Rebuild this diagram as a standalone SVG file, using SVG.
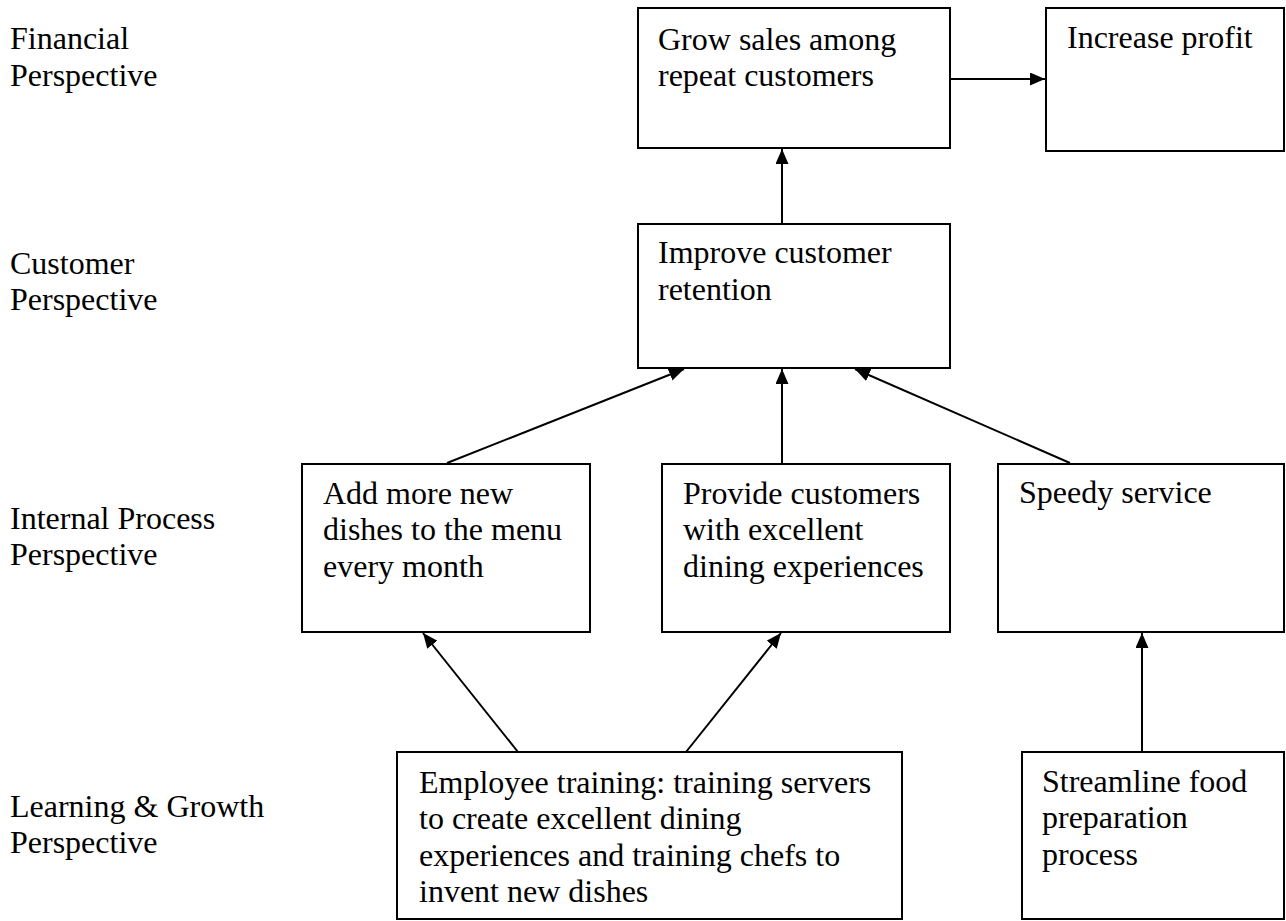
<svg xmlns="http://www.w3.org/2000/svg" width="1286" height="921" viewBox="0 0 1286 921">
  <style>
    text { font-family: "Liberation Serif", "Times New Roman", serif; font-size: 32px; fill: #000; }
    .box { fill: #fff; stroke: #000; stroke-width: 2; }
    .link { stroke: #000; stroke-width: 2; fill: none; marker-end: url(#arrow); }
  </style>
  <defs>
    <marker id="arrow" markerUnits="userSpaceOnUse" markerWidth="15" markerHeight="13" refX="15" refY="6.5" orient="auto">
      <path d="M0,0 L15,6.5 L0,13 z" fill="#000"/>
    </marker>
  </defs>

  <rect width="1286" height="921" fill="#fff"/>

  <!-- perspective labels -->
  <g id="labels">
    <text x="10" y="49">Financial</text>
    <text x="10" y="86">Perspective</text>
    <text x="10" y="274">Customer</text>
    <text x="10" y="310">Perspective</text>
    <text x="10" y="529">Internal Process</text>
    <text x="10" y="565">Perspective</text>
    <text x="10" y="817">Learning &amp; Growth</text>
    <text x="10" y="853">Perspective</text>
  </g>

  <!-- connectors -->
  <g id="connectors">
    <line class="link" x1="950" y1="79" x2="1045" y2="79"/>
    <line class="link" x1="782" y1="224" x2="782" y2="149"/>
    <line class="link" x1="447" y1="463" x2="684" y2="369"/>
    <line class="link" x1="782" y1="463" x2="782" y2="369"/>
    <line class="link" x1="1070" y1="463" x2="855" y2="369"/>
    <line class="link" x1="518" y1="752" x2="423" y2="633"/>
    <line class="link" x1="686" y1="752" x2="781" y2="633"/>
    <line class="link" x1="1142" y1="752" x2="1142" y2="633"/>
  </g>

  <g id="grow-sales">
    <rect class="box" x="638" y="8" width="312" height="140"/>
    <text x="658" y="50">Grow sales among</text>
    <text x="658" y="86">repeat customers</text>
  </g>

  <g id="increase-profit">
    <rect class="box" x="1046" y="8" width="238" height="143"/>
    <text x="1067" y="48">Increase profit</text>
  </g>

  <g id="customer-retention">
    <rect class="box" x="638" y="224" width="312" height="144"/>
    <text x="658" y="263">Improve customer</text>
    <text x="658" y="300">retention</text>
  </g>

  <g id="new-dishes">
    <rect class="box" x="302" y="464" width="288" height="168"/>
    <text x="323" y="504">Add more new</text>
    <text x="323" y="540">dishes to the menu</text>
    <text x="323" y="577">every month</text>
  </g>

  <g id="dining-experience">
    <rect class="box" x="662" y="464" width="288" height="168"/>
    <text x="683" y="504">Provide customers</text>
    <text x="683" y="540">with excellent</text>
    <text x="683" y="577">dining experiences</text>
  </g>

  <g id="speedy-service">
    <rect class="box" x="998" y="464" width="286" height="168"/>
    <text x="1019" y="503">Speedy service</text>
  </g>

  <g id="employee-training">
    <rect class="box" x="397" y="752" width="505" height="167"/>
    <text x="419" y="793">Employee training: training servers</text>
    <text x="419" y="829">to create excellent dining</text>
    <text x="419" y="866">experiences and training chefs to</text>
    <text x="419" y="902">invent new dishes</text>
  </g>

  <g id="streamline-prep">
    <rect class="box" x="1022" y="752" width="262" height="167"/>
    <text x="1042" y="792">Streamline food</text>
    <text x="1042" y="828">preparation</text>
    <text x="1042" y="865">process</text>
  </g>
</svg>
